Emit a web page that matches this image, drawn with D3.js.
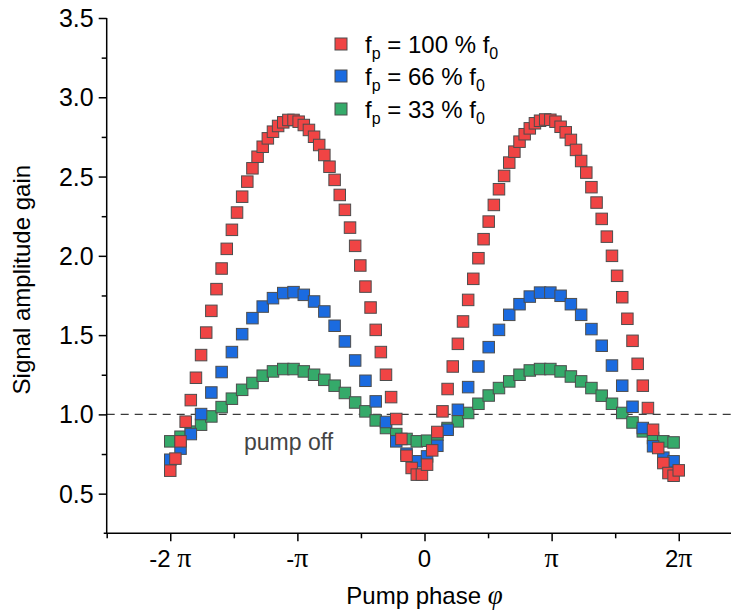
<!DOCTYPE html>
<html><head><meta charset="utf-8">
<script src="https://cdn.jsdelivr.net/npm/d3@7"></script>
<style>
body{margin:0;background:#fff}
svg{display:block}
text{font-family:Arial,"Liberation Sans",sans-serif}
</style>
</head><body>
<svg id="chart" width="731" height="614"></svg>
<script>
// ---------- data ----------
const seriesLabels = ["100", "66", "33"];
// fp = 100 % f0 (100 samples from -2π to 2π)
const gain100 = [
0.645,0.721,0.830,0.954,1.090,1.231,1.374,1.516,1.653,1.790,
1.920,2.044,2.164,2.273,2.373,2.468,2.552,2.625,2.688,2.741,
2.783,2.819,2.842,2.857,2.857,2.846,2.825,2.794,2.751,2.699,
2.636,2.562,2.479,2.384,2.290,2.178,2.063,1.939,1.806,1.674,
1.533,1.393,1.250,1.109,0.971,0.845,0.739,0.662,0.620,0.620,
0.683,0.773,0.889,1.019,1.160,1.302,1.445,1.586,1.722,1.855,
1.985,2.105,2.216,2.321,2.420,2.504,2.588,2.657,2.720,2.767,
2.804,2.836,2.852,2.860,2.858,2.846,2.814,2.779,2.731,2.668,
2.598,2.525,2.433,2.336,2.233,2.121,2.000,1.874,1.739,1.603,
1.464,1.319,1.181,1.040,0.903,0.788,0.693,0.630,0.613,0.647];
// fp = 66 % f0 (50 samples)
const gain66 = [
0.714,0.784,0.876,1.002,1.138,1.267,1.393,1.506,1.607,1.680,
1.733,1.765,1.771,1.754,1.712,1.649,1.559,1.460,1.340,1.212,
1.082,0.952,0.830,0.752,0.704,0.735,0.802,0.903,1.029,1.172,
1.302,1.424,1.533,1.628,1.695,1.743,1.768,1.768,1.748,1.695,
1.628,1.538,1.433,1.308,1.181,1.048,0.914,0.799,0.727,0.704];
// fp = 33 % f0 (50 samples)
const gain33 = [
0.830,0.859,0.891,0.935,0.987,1.046,1.099,1.155,1.198,1.244,
1.271,1.286,1.286,1.271,1.250,1.218,1.181,1.135,1.075,1.019,
0.962,0.914,0.876,0.845,0.830,0.834,0.872,0.914,0.956,1.009,
1.067,1.119,1.166,1.208,1.250,1.277,1.286,1.286,1.271,1.239,
1.208,1.166,1.118,1.067,1.009,0.949,0.893,0.851,0.830,0.823];
// phase sampling grids (in units of π)
const phase100 = d3.range(100).map(i => -2 + 4 * i / 99);
const phase50 = d3.range(50).map(j => -2 + 8 * j / 99);

const xTickValues = [-2, -1, 0, 1, 2];
const xTickPrefix = ["-2 ", "-", "0", "", "2"];
const xTickHasPi = [true, true, false, true, true];
const xMinorTicks = [-2.5, -1.5, -0.5, 0.5, 1.5, 2.5];
const yTickValues = [0.5, 1.0, 1.5, 2.0, 2.5, 3.0, 3.5];
const yMinorTicks = [0.75, 1.25, 1.75, 2.25, 2.75, 3.25];
const referenceLevel = 1.0;

// ---------- layout ----------
const svg = d3.select("#chart");
const L = 106.7, R = 742.3, T = 18, B = 533.3;
const x = d3.scaleLinear().domain([-2.5, 2.5]).range([L, R]);
const y = d3.scaleLinear().domain([0.25, 3.5]).range([B, T]);

const colors = {"100": "#f04444", "66": "#1b6be0", "33": "#35aa6a"};
const series = [
  {key: "33", xs: phase50, ys: gain33},
  {key: "66", xs: phase50, ys: gain66},
  {key: "100", xs: phase100, ys: gain100}
];

// dashed reference
svg.append("line")
  .attr("x1", L).attr("x2", 731)
  .attr("y1", y(referenceLevel)).attr("y2", y(referenceLevel))
  .attr("stroke", "#3a3a3a").attr("stroke-width", 1.3)
  .attr("stroke-dasharray", "8,6");

svg.append("text").attr("x", 244).attr("y", 450)
  .attr("font-size", 23).attr("fill", "#444").text("pump off");

// markers
const S = 11.5;
series.forEach(s => {
  const pts = s.ys.map((v, i) => ({px: s.xs[i], v}));
  svg.append("g").selectAll("rect").data(pts).join("rect")
    .attr("x", d => x(d.px) - S / 2).attr("y", d => y(d.v) - S / 2)
    .attr("width", S).attr("height", S)
    .attr("fill", colors[s.key]).attr("stroke", "#4d4d4d").attr("stroke-width", 1);
});

// axes
const yAxis = d3.axisLeft(y).tickValues(yTickValues).tickSize(8).tickPadding(5)
  .tickFormat(d3.format(".1f"));
const gy = svg.append("g").attr("transform", `translate(${L},0)`).call(yAxis);
gy.select(".domain").attr("d", `M0,${B}V${T}`);
svg.append("g").attr("transform", `translate(${L},0)`)
  .call(d3.axisLeft(y).tickValues(yMinorTicks).tickSize(5).tickFormat(""))
  .select(".domain").remove();

const xAxis = d3.axisBottom(x).tickValues(xTickValues).tickSize(8).tickPadding(5)
  .tickFormat("");
const gx = svg.append("g").attr("transform", `translate(0,${B})`).call(xAxis);
gx.select(".domain").attr("d", `M${L - 3},0H${R}`);
svg.append("g").attr("transform", `translate(0,${B})`)
  .call(d3.axisBottom(x).tickValues(xMinorTicks).tickSize(5).tickFormat(""))
  .select(".domain").remove();

[gx, gy].forEach(g => {
  g.selectAll("path,line").attr("stroke", "#000").attr("stroke-width", 1.5);
  g.selectAll("text").attr("font-size", 25).attr("fill", "#000")
    .attr("font-family", "Arial, 'Liberation Sans', sans-serif");
});
gy.selectAll("text").attr("dy", "0.34em");
svg.selectAll("g line").attr("stroke", "#000").attr("stroke-width", 1.5);

// x tick labels with π
xTickValues.forEach((v, i) => {
  const t = svg.append("text").attr("x", x(v)).attr("y", B + 34)
    .attr("text-anchor", "middle").attr("font-size", 24);
  t.append("tspan").text(xTickPrefix[i]);
  if (xTickHasPi[i]) t.append("tspan").attr("font-family", "'Liberation Serif', 'DejaVu Serif', serif")
    .attr("font-size", 28).text("π");
});

// axis titles
const xt = svg.append("text").attr("x", x(0)).attr("y", 604)
  .attr("text-anchor", "middle").attr("font-size", 24);
xt.append("tspan").text("Pump phase ");
xt.append("tspan").attr("font-family", "'Liberation Serif', serif").attr("font-style", "italic")
  .attr("font-size", 27).text("φ");

svg.append("text").attr("transform", `translate(30,${(T + B) / 2 + 4}) rotate(-90)`)
  .attr("text-anchor", "middle").attr("font-size", 24).text("Signal amplitude gain");

// legend
const legendY = [44, 76, 109];
seriesLabels.forEach((k, i) => {
  svg.append("rect").attr("x", 341 - 6).attr("y", legendY[i] - 6)
    .attr("width", 12).attr("height", 12)
    .attr("fill", colors[k]).attr("stroke", "#4d4d4d").attr("stroke-width", 1);
  const t = svg.append("text").attr("x", 365).attr("y", legendY[i] + 9).attr("font-size", 24);
  t.append("tspan").text("f");
  t.append("tspan").attr("font-size", 16).attr("dy", 6).text("p");
  t.append("tspan").attr("dy", -6).text(` = ${k} % f`);
  t.append("tspan").attr("font-size", 16).attr("dy", 6).text("0");
});
</script>
</body></html>
